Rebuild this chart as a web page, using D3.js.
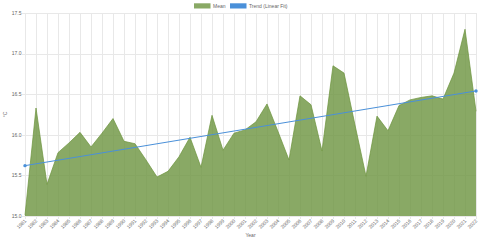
<!DOCTYPE html>
<html><head><meta charset="utf-8">
<script src="https://cdn.jsdelivr.net/npm/d3@7/dist/d3.min.js"></script>
<style>html,body{margin:0;padding:0;background:#fff;}svg{display:block;}</style>
</head><body>
<svg id="c" width="480" height="240"></svg>
<script>
const years = d3.range(1981, 2023).map(String);
const meanValues = [15.01,16.33,15.39,15.78,15.90,16.03,15.85,16.02,16.20,15.92,15.89,15.69,15.48,15.55,15.73,15.97,15.60,16.24,15.81,16.02,16.06,16.16,16.38,16.04,15.69,16.48,16.37,15.80,16.85,16.76,16.12,15.49,16.23,16.05,16.36,16.43,16.46,16.48,16.44,16.76,17.30,16.29];
const trendYears = ["1981","2022"];
const trendValues = [15.62,16.54];
const yTicks = [15.0,15.5,16.0,16.5,17.0,17.5];
const legendLabels = ["Mean","Trend (Linear Fit)"];

const svg = d3.select("#c");
const L = 25, R = 476, T = 13, B = 216;
const font = "'Liberation Sans', Arial, Helvetica, sans-serif";
const x = d3.scalePoint().domain(years).range([L, R]);
const y = d3.scaleLinear().domain([15, 17.5]).range([B, T]);

// grid
const grid = svg.append("g").attr("stroke", "#e8e8e8").attr("stroke-width", 1);
years.forEach(yr => {
  const xx = Math.round(x(yr)) + 0.5;
  grid.append("line").attr("x1", xx).attr("x2", xx).attr("y1", T).attr("y2", B + 3);
});
yTicks.forEach(t => {
  const yy = Math.round(y(t)) + 0.5;
  grid.append("line").attr("x1", L - 3).attr("x2", R).attr("y1", yy).attr("y2", yy);
});

// area
const area = d3.area().x((d, i) => x(years[i])).y0(y(15)).y1(d => y(d));
svg.append("path").datum(meanValues).attr("d", area)
  .attr("fill", "rgba(108,148,62,0.8)");
const line = d3.line().x((d, i) => x(years[i])).y(d => y(d));
svg.append("path").datum(meanValues).attr("d", line)
  .attr("fill", "none").attr("stroke", "rgba(108,148,62,0.9)").attr("stroke-width", 0.8);

// trend
const tl = d3.line().x((d, i) => x(trendYears[i])).y(d => y(d));
svg.append("path").datum(trendValues).attr("d", tl)
  .attr("fill", "none").attr("stroke", "#4a90d9").attr("stroke-width", 1);
svg.selectAll(".tp").data(trendValues).enter().append("circle")
  .attr("cx", (d, i) => x(trendYears[i])).attr("cy", d => y(d)).attr("r", 1.7)
  .attr("fill", "#4a90d9");

// y ticks
svg.append("g").selectAll("text").data(yTicks).enter().append("text")
  .attr("x", 21.5).attr("y", d => y(d)).attr("dy", "0.35em")
  .attr("text-anchor", "end").attr("font-family", font).attr("font-size", 5)
  .attr("fill", "#666").text(d => d.toFixed(1));

// x ticks
svg.append("g").selectAll("text").data(years).enter().append("text")
  .attr("transform", d => `translate(${x(d) + 0.5},${B + 4}) rotate(-45)`)
  .attr("dy", "0.35em")
  .attr("text-anchor", "end").attr("font-family", font).attr("font-size", 5)
  .attr("fill", "#666").text(d => d);

// axis titles
svg.append("text").attr("x", (L + R) / 2).attr("y", 237)
  .attr("text-anchor", "middle").attr("font-family", font).attr("font-size", 5)
  .attr("fill", "#666").text("Year");
svg.append("text").attr("transform", `translate(7,${(T + B) / 2}) rotate(-90)`)
  .attr("text-anchor", "middle").attr("font-family", font).attr("font-size", 5)
  .attr("fill", "#666").text("°C");

// legend
const lg = svg.append("g");
const legendColors = ["rgba(108,148,62,0.8)", "#4a90d9"];
const lx = [194, 230];
legendLabels.forEach((lab, i) => {
  lg.append("rect").attr("x", lx[i]).attr("y", 3.3).attr("width", 16.5).attr("height", 5.2)
    .attr("fill", legendColors[i]);
  lg.append("text").attr("x", lx[i] + 19).attr("y", 6).attr("dy", "0.35em")
    .attr("font-family", font).attr("font-size", 5).attr("fill", "#666").text(lab);
});
</script>
</body></html>
